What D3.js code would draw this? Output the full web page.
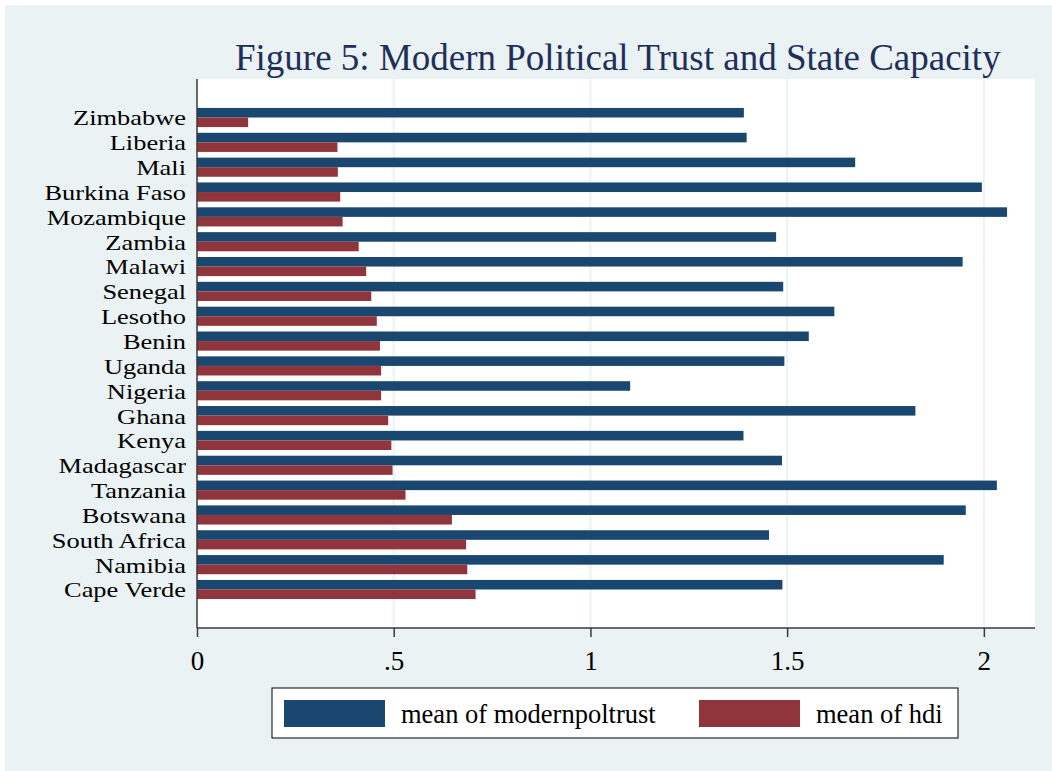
<!DOCTYPE html>
<html>
<head>
<meta charset="utf-8">
<script src="https://cdn.jsdelivr.net/npm/d3@7"></script>
<style>
  html, body { margin: 0; padding: 0; background: #ffffff; }
  svg { display: block; }
  text { font-family: "Liberation Serif", "Times New Roman", Times, serif; }
</style>
</head>
<body>
<svg id="chart" width="1052" height="771"></svg>
<script>
// Countries, ordered top to bottom by mean HDI
const countries = [
  "Zimbabwe", "Liberia", "Mali", "Burkina Faso", "Mozambique", "Zambia",
  "Malawi", "Senegal", "Lesotho", "Benin", "Uganda", "Nigeria", "Ghana",
  "Kenya", "Madagascar", "Tanzania", "Botswana", "South Africa", "Namibia",
  "Cape Verde"
];

// mean of modernpoltrust
const modernPolTrust = [
  1.390, 1.397, 1.673, 1.995, 2.059, 1.472,
  1.946, 1.490, 1.620, 1.555, 1.493, 1.101, 1.826,
  1.389, 1.487, 2.033, 1.954, 1.454, 1.898,
  1.488
];

// mean of hdi
const hdi = [
  0.130, 0.357, 0.358, 0.364, 0.370, 0.411,
  0.430, 0.443, 0.457, 0.465, 0.468, 0.468, 0.486,
  0.494, 0.497, 0.530, 0.648, 0.684, 0.687,
  0.708
];

const seriesNames = ["mean of modernpoltrust", "mean of hdi"];
const tickValues = [0, 0.5, 1, 1.5, 2];
const tickLabels = ["0", ".5", "1", "1.5", "2"];
const titleText = "Figure 5: Modern Political Trust and State Capacity";

const colors = ["#1a476f", "#90353b"];
const bgColor = "#eaf2f3";

const svg = d3.select("#chart");
const W = 1052, H = 771;

// Outer graph region
svg.append("rect")
  .attr("x", 5).attr("y", 5)
  .attr("width", W - 5).attr("height", H - 5)
  .attr("fill", bgColor);

const plot = { left: 197, right: 1035, top: 79, bottom: 628 };

// Inner plot region
svg.append("rect")
  .attr("x", plot.left).attr("y", plot.top)
  .attr("width", plot.right - plot.left)
  .attr("height", plot.bottom - plot.top)
  .attr("fill", "#ffffff");

const x = d3.scaleLinear().domain([0, 2.13]).range([plot.left, plot.right]);

const y = d3.scaleBand()
  .domain(countries)
  .range([plot.top, plot.bottom])
  .paddingInner(0.23)
  .paddingOuter(1.165);

const ySeries = d3.scaleBand()
  .domain([0, 1])
  .range([0, y.bandwidth()]);

// Vertical gridlines
svg.append("g")
  .selectAll("line")
  .data(tickValues.filter(v => v > 0))
  .join("line")
  .attr("x1", d => x(d)).attr("x2", d => x(d))
  .attr("y1", plot.top).attr("y2", plot.bottom)
  .attr("stroke", bgColor)
  .attr("stroke-width", 2);

// Bars
const rows = countries.map((c, i) => ({ country: c, values: [modernPolTrust[i], hdi[i]] }));

const groups = svg.append("g")
  .selectAll("g")
  .data(rows)
  .join("g")
  .attr("transform", d => `translate(0,${y(d.country)})`);

groups.selectAll("rect")
  .data(d => d.values.map((v, k) => ({ v, k })))
  .join("rect")
  .attr("x", x(0))
  .attr("y", d => ySeries(d.k))
  .attr("width", d => x(d.v) - x(0))
  .attr("height", ySeries.bandwidth())
  .attr("fill", d => colors[d.k]);

// Category labels: set compactly in height so rows don't collide, widened to a Stata-like set width
const labels = svg.append("g")
  .selectAll("text")
  .data(countries)
  .join("text")
  .attr("x", 186)
  .attr("y", d => y(d) + y.bandwidth() / 2)
  .attr("dy", "0.36em")
  .attr("text-anchor", "end")
  .attr("font-size", 22)
  .attr("fill", "#000")
  .text(d => d);

labels.each(function () {
  const len = this.getComputedTextLength();
  d3.select(this)
    .attr("textLength", len * 1.2)
    .attr("lengthAdjust", "spacingAndGlyphs");
});

// Left axis line
svg.append("line")
  .attr("x1", plot.left).attr("x2", plot.left)
  .attr("y1", plot.top).attr("y2", plot.bottom)
  .attr("stroke", "#3a3a3a")
  .attr("stroke-width", 1.5);

// Bottom axis
const xAxis = d3.axisBottom(x)
  .tickValues(tickValues)
  .tickFormat((d, i) => tickLabels[i])
  .tickSize(9)
  .tickPadding(14)
  .tickSizeOuter(0);

const axisG = svg.append("g")
  .attr("transform", `translate(0,${plot.bottom})`)
  .call(xAxis);

axisG.select(".domain")
  .attr("d", `M${plot.left},0H${plot.right}`)
  .attr("stroke", "#3a3a3a")
  .attr("stroke-width", 1.5);
axisG.selectAll(".tick line").attr("stroke", "#3a3a3a").attr("stroke-width", 1.5);
axisG.selectAll(".tick text")
  .attr("font-family", "'Liberation Serif', 'Times New Roman', serif")
  .attr("font-size", 27)
  .attr("fill", "#000");

// Title
svg.append("text")
  .attr("x", 235)
  .attr("y", 70)
  .attr("font-size", 37)
  .attr("fill", "#1f2f5a")
  .text(titleText);

// Legend
const legend = svg.append("g");
legend.append("rect")
  .attr("x", 272).attr("y", 688)
  .attr("width", 686).attr("height", 50)
  .attr("fill", "#ffffff")
  .attr("stroke", "#000")
  .attr("stroke-width", 1);

const legendItems = [
  { keyX: 284, textX: 401 },
  { keyX: 699, textX: 816 }
];

legend.selectAll("rect.key")
  .data(legendItems)
  .join("rect")
  .attr("class", "key")
  .attr("x", d => d.keyX)
  .attr("y", 700)
  .attr("width", 101)
  .attr("height", 27)
  .attr("fill", (d, i) => colors[i]);

legend.selectAll("text")
  .data(legendItems)
  .join("text")
  .attr("x", d => d.textX)
  .attr("y", 713)
  .attr("dy", "0.36em")
  .attr("font-size", 26.5)
  .attr("fill", "#000")
  .text((d, i) => seriesNames[i]);
</script>
</body>
</html>
